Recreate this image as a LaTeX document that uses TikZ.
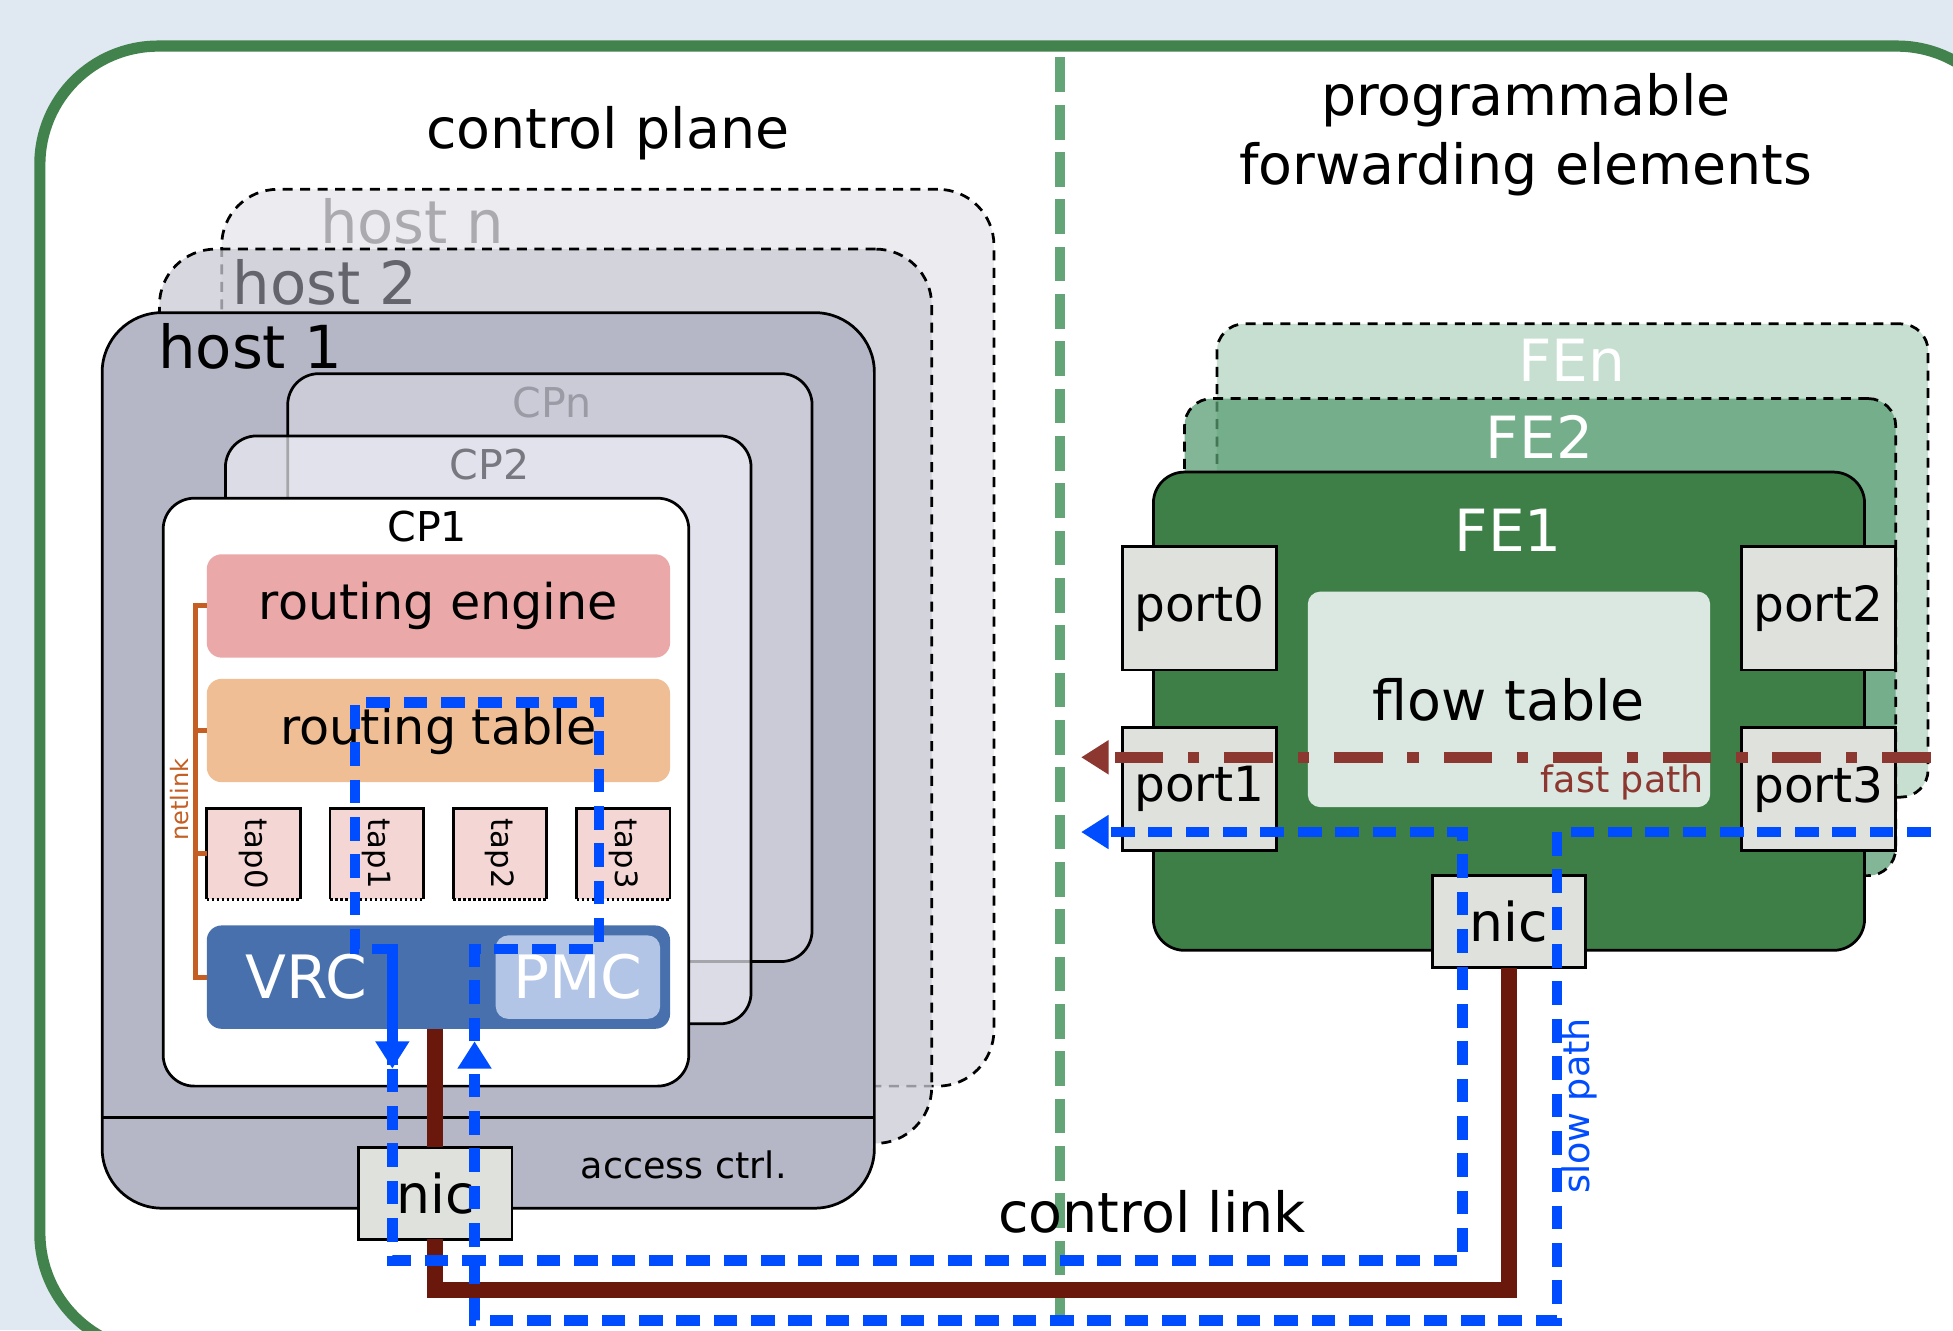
\documentclass[tikz,border=0pt]{standalone}
\usepackage{fontspec}
\setmainfont{DejaVu Sans}
\usepackage{graphicx}
\usetikzlibrary{positioning,arrows.meta}

\definecolor{bgblue}{RGB}{224,232,242}
\definecolor{framegreen}{RGB}{66,130,76}
\definecolor{dividegreen}{RGB}{100,165,120}
\definecolor{hostnfill}{RGB}{235,235,240}
\definecolor{hosttwofill}{RGB}{202,203,213}
\definecolor{hostonefill}{RGB}{181,183,198}
\definecolor{cpnfill}{RGB}{202,203,214}
\definecolor{cptwofill}{RGB}{236,237,244}
\definecolor{enginefill}{RGB}{235,168,168}
\definecolor{tablefill}{RGB}{240,190,148}
\definecolor{tapfill}{RGB}{244,214,212}
\definecolor{netorange}{RGB}{196,94,34}
\definecolor{vrcfill}{RGB}{71,112,172}
\definecolor{pmcfill}{RGB}{178,197,230}
\definecolor{nicgray}{RGB}{223,225,220}
\definecolor{fenfill}{RGB}{198,223,208}
\definecolor{fetwofill}{RGB}{89,158,115}
\definecolor{feonefill}{RGB}{62,127,72}
\definecolor{flowfill}{RGB}{219,232,225}
\definecolor{fastbrown}{RGB}{140,55,48}
\definecolor{linkbrown}{RGB}{107,24,12}
\definecolor{slowblue}{RGB}{0,76,255}
\definecolor{hostngray}{RGB}{170,170,175}
\definecolor{hosttwogray}{RGB}{100,100,108}
\definecolor{cpngray}{RGB}{155,155,165}
\definecolor{cptwogray}{RGB}{120,120,128}

\newcommand{\fsz}[2]{\fontsize{#1}{#2}\selectfont}

\begin{document}
\begin{tikzpicture}[x=1pt, y=-1pt, line join=miter,
  every node/.style={inner sep=0pt, outer sep=0pt},
  outerframe/.style={draw=framegreen, line width=9pt, fill=white, rounded corners=95pt},
  divider/.style={draw=dividegreen, line width=8pt, dash pattern=on 28pt off 10pt},
  panel/.style={draw=black, line width=2.2pt, anchor=north west},
  ghost/.style={panel, dash pattern=on 8pt off 6pt},
  block/.style={anchor=north west, rounded corners=12pt, minimum width=372pt, minimum height=83pt},
  tapbox/.style={fill=tapfill, anchor=north west, minimum width=75pt, minimum height=73pt, font=\fsz{24.6}{30}},
  tapedge/.style={draw=black, line width=2.2pt},
  tapdots/.style={draw=black, line width=2.2pt, dash pattern=on 2pt off 2pt},
  portbox/.style={draw=black, line width=2.2pt, fill=nicgray, anchor=north west, minimum width=124pt, minimum height=99pt, font=\fsz{39}{47}},
  nicbox/.style={portbox, minimum width=123pt, minimum height=74pt, font=\fsz{43}{52}},
  netlink/.style={draw=netorange, line width=4pt},
  ctrllink/.style={draw=linkbrown, line width=13pt},
  slowpath/.style={draw=slowblue, line width=8.5pt, dash pattern=on 19pt off 11pt},
  fastpath/.style={draw=fastbrown, line width=9pt, dash pattern=on 39pt off 20pt on 9pt off 20pt}]

  % Page and outer frame
  \fill[bgblue] (0,0) rectangle (1568,1068);
  \useasboundingbox (0,0) rectangle (1568,1068);
  \clip (0,0) rectangle (1568,1068);
  \draw[outerframe] (32,37) rectangle (1618,1085);
  \draw[divider] (851,46) -- (851,1068);

  % Titles
  \node[font=\fsz{44.5}{53}] (cptitle) at (488,107) {control plane};
  \node[align=center, font=\fsz{44.5}{55}] (fetitle) at (1225,108) {programmable\\forwarding elements};

  % Hosts
  \node[ghost, fill=hostnfill, rounded corners=45pt, minimum width=620pt, minimum height=720pt] (hostn) at (178,152) {};
  \node[ghost, fill=hosttwofill, fill opacity=0.75, rounded corners=45pt, minimum width=620pt, minimum height=718pt] (hosttwo) at (128,200) {};
  \node[panel, fill=hostonefill, rounded corners=48pt, minimum width=620pt, minimum height=719pt] (hostone) at (82,251) {};
  \coordinate (divrow) at (0,897);
  \draw[line width=2.2pt] (hostone.west |- divrow) -- (hostone.east |- divrow);
  \node[anchor=west, text=hostngray, font=\fsz{47.6}{57}] (hostnlbl) at (257,178) {host n};
  \node[anchor=west, text=hosttwogray, font=\fsz{47.6}{57}] (hosttwolbl) at (187,227) {host 2};
  \node[anchor=west, font=\fsz{47.6}{57}] (hostonelbl) at (127,278) {host 1};
  \node[font=\fsz{29.3}{35}] (acclbl) at (549,935) {access ctrl.};

  % Control plane instances
  \node[panel, fill=cpnfill, rounded corners=25pt, minimum width=421pt, minimum height=472pt] (cpn) at (231,300) {};
  \node[panel, fill=cptwofill, fill opacity=0.7, rounded corners=25pt, minimum width=422pt, minimum height=472pt] (cptwo) at (181,350) {};
  \node[panel, fill=white, rounded corners=25pt, minimum width=422pt, minimum height=472pt] (cpone) at (131,400) {};
  \node[text=cpngray, font=\fsz{33}{40}] (cpnlbl) at (443,323) {CPn};
  \node[text=cptwogray, font=\fsz{33}{40}] (cptwolbl) at (393,373) {CP2};
  \node[font=\fsz{33}{40}] (cponelbl) at (343,423) {CP1};

  % Inside CP1
  \node[block, fill=enginefill, font=\fsz{39.5}{47}] (engine) at (166,445) {routing engine};
  \node[block, fill=tablefill, font=\fsz{39.5}{47}] (rtable) at (166,545) {routing table};
  \node[tapbox] (tapzero) at (166,649) {\rotatebox{-90}{tap0}};
  \node[tapbox] (tapone) at (265,649) {\rotatebox{-90}{tap1}};
  \node[tapbox] (taptwo) at (364,649) {\rotatebox{-90}{tap2}};
  \node[tapbox] (tapthree) at (463,649) {\rotatebox{-90}{tap3}};
  \draw[tapedge] (tapzero.south west) -- (tapzero.north west) -- (tapzero.north east) -- (tapzero.south east);
  \draw[tapedge] (tapone.south west) -- (tapone.north west) -- (tapone.north east) -- (tapone.south east);
  \draw[tapedge] (taptwo.south west) -- (taptwo.north west) -- (taptwo.north east) -- (taptwo.south east);
  \draw[tapedge] (tapthree.south west) -- (tapthree.north west) -- (tapthree.north east) -- (tapthree.south east);
  \draw[tapdots] (tapzero.south west) -- (tapzero.south east);
  \draw[tapdots] (tapone.south west) -- (tapone.south east);
  \draw[tapdots] (taptwo.south west) -- (taptwo.south east);
  \draw[tapdots] (tapthree.south west) -- (tapthree.south east);
  \node[block, fill=vrcfill] (vrc) at (166,743) {};
  \node[text=white, font=\fsz{48}{58}] (vrclbl) at (246,784) {VRC};
  \node[anchor=north west, fill=pmcfill, rounded corners=10pt, minimum width=132pt, minimum height=67pt, text=white, font=\fsz{48}{58}] (pmc) at (398,751) {PMC};

  % netlink bracket
  \draw[netlink] (engine.west) -| ([xshift=-9pt]vrc.west) -- (vrc.west);
  \draw[netlink] (rtable.west) -- ++(-9,0);
  \draw[netlink] (tapzero.west) -- ++(-9,0);
  \node[rotate=90, text=netorange, font=\fsz{19.3}{23}] (netlbl) at (144,642) {netlink};

  % Forwarding elements
  \node[ghost, fill=fenfill, rounded corners=22pt, minimum width=571pt, minimum height=380pt] (fen) at (977,260) {};
  \node[ghost, fill=fetwofill, fill opacity=0.75, rounded corners=22pt, minimum width=571pt, minimum height=383pt] (fetwo) at (951,320) {};
  \node[panel, fill=feonefill, rounded corners=25pt, minimum width=571pt, minimum height=384pt] (feone) at (926,379) {};
  \node[text=white, font=\fsz{46.7}{56}] (fenlbl) at (1262,289) {FEn};
  \node[text=white, font=\fsz{46.7}{56}] (fetwolbl) at (1236,351) {FE2};
  \node[text=white, font=\fsz{46.7}{56}] (feonelbl) at (1211,426) {FE1};
  \node[anchor=north west, fill=flowfill, rounded corners=10pt, minimum width=323pt, minimum height=173pt, font=\fsz{44.5}{53}] (flow) at (1050,475) {flow table};
  \node[anchor=east, text=fastbrown, font=\fsz{29.3}{35}] (fastlbl) at (1368,628) {fast path};
  \node[portbox] (portzero) at (901,439) {port0};
  \node[portbox] (portone) at (901,584) {port1};
  \node[portbox] (porttwo) at (1398,439) {port2};
  \node[portbox] (portthree) at (1398,584) {port3};

  % NICs and control link
  \node[nicbox] (hostnic) at (288,921) {nic};
  \node[nicbox] (fenic) at (1150,703) {nic};
  \coordinate (linkrow) at (0,1036);
  \draw[ctrllink] (vrc.south -| hostnic) -- (hostnic.north);
  \draw[ctrllink] (hostnic.south) |- (fenic.south |- linkrow) -- (fenic.south);
  \node[font=\fsz{44.5}{53}] (linklbl) at (925,973) {control link};

  % Fast path
  \coordinate (fastin) at (1550,608);
  \coordinate (fastout) at (868,608);
  \draw[fastpath, -{Triangle[length=22pt, width=26pt]}] (fastin) -- (fastout);

  % Slow path
  \coordinate (slowin) at (1550,668);
  \coordinate (slowturn) at (1250,1060);
  \coordinate (slowup) at (381,836);
  \coordinate (pmcturn) at (481,762);
  \coordinate (tabturn) at (285,564);
  \coordinate (vrcturn) at (315,762);
  \coordinate (slowdown) at (315,858);
  \coordinate (nicturn) at (1174,1012);
  \coordinate (slowout) at (868,668);
  \draw[slowpath, -{Triangle[length=22pt, width=26pt]}] (slowin) -| (slowturn) -| (slowup);
  \draw[slowpath] (slowup) |- (pmcturn) |- (tabturn) |- (vrcturn) -- (slowdown);
  \draw[slowpath, -{Triangle[length=22pt, width=26pt]}] (vrcturn) -- (slowdown);
  \draw[slowpath, -{Triangle[length=22pt, width=26pt]}] (slowdown) |- (nicturn) |- (slowout);
  \node[rotate=90, text=slowblue, font=\fsz{29.3}{35}] (slowlbl) at (1268,888) {slow path};
\end{tikzpicture}
\end{document}
